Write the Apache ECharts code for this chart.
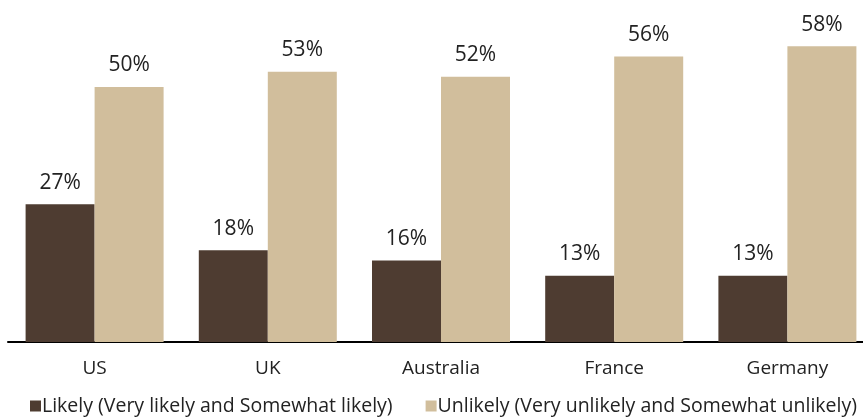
<!DOCTYPE html>
<html>
<head>
<meta charset="utf-8">
<script src="https://cdn.jsdelivr.net/npm/echarts@6/dist/echarts.min.js"></script>
<style>
html,body{margin:0;padding:0;background:#fff;}
#chart{width:863px;height:419px;}
</style>
</head>
<body>
<div id="chart"></div>
<script>
// Survey results by country (percent of respondents)
var countries = ['US', 'UK', 'Australia', 'France', 'Germany'];
var likely = [27, 18, 16, 13, 13];
var unlikely = [50, 53, 52, 56, 58];
var seriesNames = ['Likely (Very likely and Somewhat likely)', 'Unlikely (Very unlikely and Somewhat unlikely)'];

var FONT = '"Open Sans", "Noto Sans", sans-serif';
var chart = echarts.init(document.getElementById('chart'), null, {renderer: 'canvas'});

function barLabel() {
  return {
    show: true,
    position: 'top',
    distance: 11,
    formatter: '{c}%',
    color: '#222',
    fontFamily: FONT,
    fontSize: 21
  };
}

chart.setOption({
  animation: false,
  textStyle: {fontFamily: FONT},
  grid: {left: 8, width: 866, top: 36, bottom: 77, containLabel: false, outerBoundsMode: 'none'},
  legend: {
    top: 391,
    left: 25,
    icon: 'rect',
    itemWidth: 11,
    itemHeight: 11,
    itemGap: 33,
    textStyle: {fontFamily: FONT, fontSize: 19.5, color: '#222', padding: [0, 0, 0, -4]},
    data: seriesNames
  },
  xAxis: {
    type: 'category',
    data: countries,
    axisLine: {show: true, lineStyle: {color: '#000', width: 2}},
    axisTick: {show: false},
    axisLabel: {color: '#222', fontFamily: FONT, fontSize: 19, margin: 17}
  },
  yAxis: {
    type: 'value',
    min: 0,
    max: 60,
    show: false,
    splitLine: {show: false}
  },
  series: [
    {
      name: seriesNames[0],
      type: 'bar',
      data: likely,
      barWidth: 69,
      barGap: '0%',
      itemStyle: {color: '#4e3c31'},
      label: barLabel()
    },
    {
      name: seriesNames[1],
      type: 'bar',
      data: unlikely,
      barWidth: 69,
      barGap: '0%',
      itemStyle: {color: '#d1be9c'},
      label: barLabel()
    }
  ]
});
</script>
</body>
</html>
